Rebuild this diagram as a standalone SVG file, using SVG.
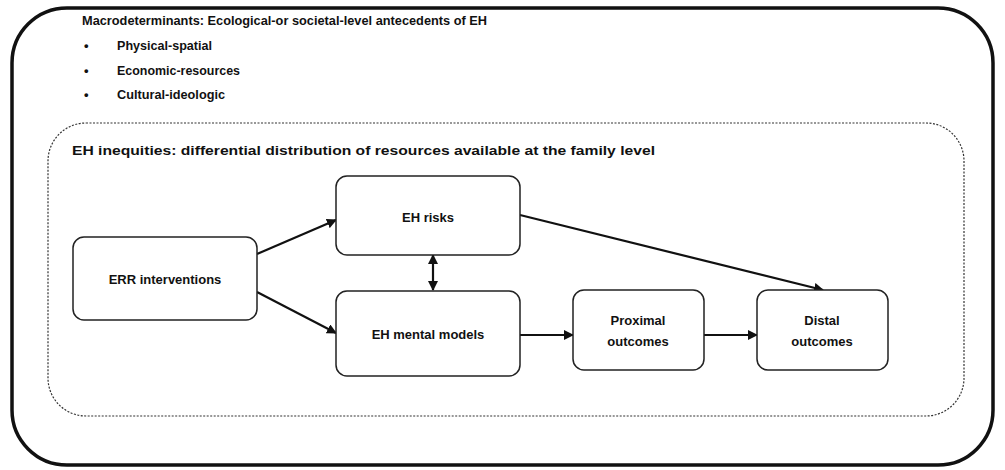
<svg xmlns="http://www.w3.org/2000/svg" width="1005" height="470" viewBox="0 0 1005 470">
<style>
.t{font-family:"Liberation Sans",Arial,sans-serif;font-weight:bold;font-size:13px;fill:#111}
.c{text-anchor:middle}
.node{fill:#fff;stroke:#222;stroke-width:1.5}
.conn{stroke:#111;stroke-width:2.2;fill:none}
</style>
<defs>
<marker id="ah" markerWidth="10" markerHeight="10" refX="9" refY="5" orient="auto" markerUnits="userSpaceOnUse">
<path d="M0,0 L10,5 L0,10 z" fill="#111"/>
</marker>
<marker id="as" markerWidth="10" markerHeight="10" refX="1" refY="5" orient="auto" markerUnits="userSpaceOnUse">
<path d="M10,0 L0,5 L10,10 z" fill="#111"/>
</marker>
</defs>
<rect width="1005" height="470" fill="#fff"/>
<g id="macro">
<rect x="12" y="8" width="981" height="457" rx="55" ry="55" fill="none" stroke="#111" stroke-width="3.5"/>
<text class="t" x="82" y="25" textLength="405" lengthAdjust="spacingAndGlyphs">Macrodeterminants:  Ecological-or societal-level antecedents of EH</text>
<text class="t" x="84" y="50">•</text>
<text class="t" x="117" y="50" textLength="95" lengthAdjust="spacingAndGlyphs">Physical-spatial</text>
<text class="t" x="84" y="75">•</text>
<text class="t" x="117" y="75" textLength="123" lengthAdjust="spacingAndGlyphs">Economic-resources</text>
<text class="t" x="84" y="99">•</text>
<text class="t" x="117" y="99" textLength="108" lengthAdjust="spacingAndGlyphs">Cultural-ideologic</text>
</g>
<g id="inequities">
<rect x="48" y="123" width="916" height="293" rx="38" ry="38" fill="none" stroke="#333" stroke-width="1.2" stroke-dasharray="2 1.5"/>
<text class="t" x="72" y="155" textLength="583" lengthAdjust="spacingAndGlyphs">EH inequities: differential distribution of resources available at the family level</text>
</g>
<g id="connectors">
<line class="conn" x1="257" y1="254" x2="336" y2="220" marker-end="url(#ah)"/>
<line class="conn" x1="257" y1="292" x2="336" y2="333" marker-end="url(#ah)"/>
<line class="conn" x1="433" y1="255" x2="433" y2="290" marker-start="url(#as)" marker-end="url(#ah)"/>
<line class="conn" x1="520" y1="215" x2="823" y2="290" marker-end="url(#ah)"/>
<line class="conn" x1="520" y1="335" x2="573" y2="335" marker-end="url(#ah)"/>
<line class="conn" x1="704" y1="335" x2="757" y2="335" marker-end="url(#ah)"/>
</g>
<g id="err">
<rect class="node" x="73" y="237" width="184" height="83" rx="11"/>
<text class="t c" x="165" y="284" font-size="13.5">ERR interventions</text>
</g>
<g id="risks">
<rect class="node" x="336" y="176" width="184" height="79" rx="11"/>
<text class="t c" x="428" y="222">EH risks</text>
</g>
<g id="mental">
<rect class="node" x="336" y="291" width="184" height="85" rx="11"/>
<text class="t c" x="428" y="339" font-size="13.5">EH mental models</text>
</g>
<g id="proximal">
<rect class="node" x="573" y="290" width="131" height="80" rx="11"/>
<text class="t c" x="638" y="325">Proximal</text>
<text class="t c" x="638" y="346">outcomes</text>
</g>
<g id="distal">
<rect class="node" x="757" y="290" width="131" height="80" rx="11"/>
<text class="t c" x="822" y="325">Distal</text>
<text class="t c" x="822" y="346">outcomes</text>
</g>
</svg>
